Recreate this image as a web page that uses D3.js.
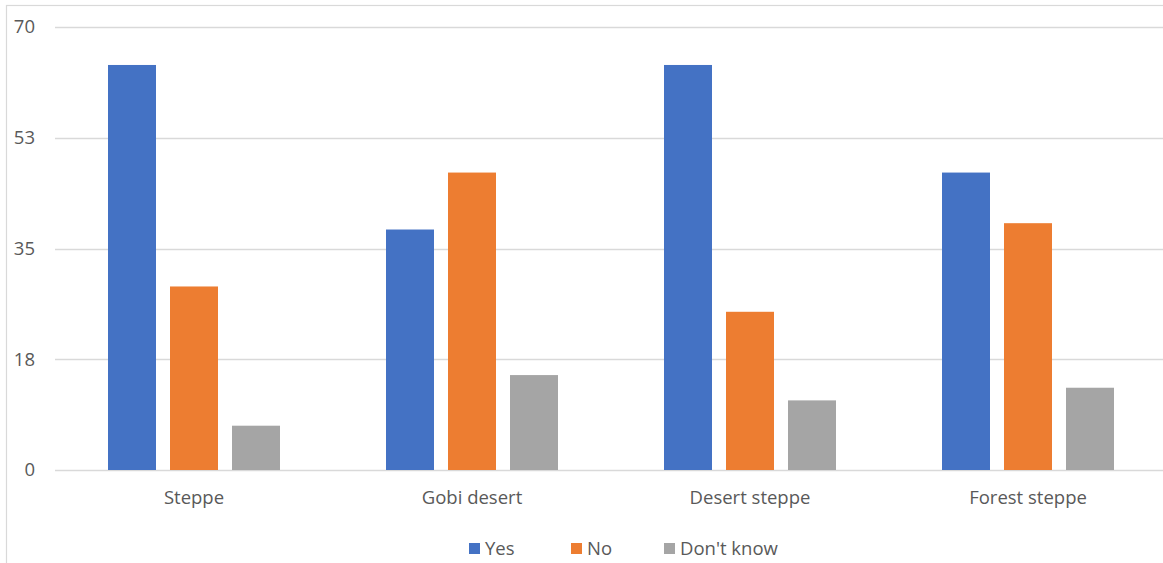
<!DOCTYPE html>
<html>
<head>
<meta charset="utf-8">
<script src="https://cdn.jsdelivr.net/npm/d3@7"></script>
<style>
  html, body { margin: 0; padding: 0; background: #fff; }
  svg { display: block; }
  text { font-family: "Open Sans", "Noto Sans", sans-serif; fill: #595959; }
</style>
</head>
<body>
<svg id="chart" width="1163" height="563"></svg>
<script>
// Survey answers by landscape zone
const categories = ["Steppe", "Gobi desert", "Desert steppe", "Forest steppe"];
const seriesNames = ["Yes", "No", "Don't know"];
const yesValues = [64, 38, 64, 47];
const noValues = [29, 47, 25, 39];
const dontKnowValues = [7, 15, 11, 13];
const yTicks = [0, 17.5, 35, 52.5, 70];
const yTickLabels = ["0", "18", "35", "53", "70"];
const colors = ["#4472C4", "#ED7D31", "#A5A5A5"];

const series = [yesValues, noValues, dontKnowValues];
const rows = categories.map((c, i) => ({
  category: c,
  values: seriesNames.map((s, j) => ({ key: s, value: series[j][i] }))
}));

const FONT = 18.5;
const svg = d3.select("#chart");

// outer chart frame
svg.append("rect")
  .attr("x", 6.5).attr("y", 5.5)
  .attr("width", 1200).attr("height", 600)
  .attr("fill", "none").attr("stroke", "#D9D9D9").attr("stroke-width", 1.2);

const plot = { left: 55, right: 1167, top: 27, bottom: 470 };

const x0 = d3.scaleBand().domain(categories).range([plot.left, plot.right]).paddingInner(0).paddingOuter(0);
const x1 = d3.scaleBand().domain(seriesNames).range([53, x0.bandwidth() - 53]).paddingInner(0.226).paddingOuter(0);
const y = d3.scaleLinear().domain([0, 70]).range([plot.bottom, plot.top]);

// gridlines
svg.append("g")
  .selectAll("line")
  .data(yTicks)
  .join("line")
  .attr("x1", plot.left).attr("x2", plot.right)
  .attr("y1", d => Math.round(y(d)) + 0.5).attr("y2", d => Math.round(y(d)) + 0.5)
  .attr("stroke", "#D9D9D9").attr("stroke-width", 1.5);

// y axis labels
const yAxis = d3.axisLeft(y).tickValues(yTicks).tickFormat((d, i) => yTickLabels[i]).tickSize(0).tickPadding(0);
const yg = svg.append("g").attr("transform", "translate(35,0)").call(yAxis);
yg.select(".domain").remove();
yg.selectAll("text").attr("font-size", FONT).attr("fill", "#595959")
  .style("font-family", '"Open Sans", "Noto Sans", sans-serif');

// bars
const groups = svg.append("g").selectAll("g")
  .data(rows)
  .join("g")
  .attr("transform", d => `translate(${x0(d.category)},0)`);

groups.selectAll("rect")
  .data(d => d.values)
  .join("rect")
  .attr("x", d => x1(d.key))
  .attr("width", x1.bandwidth())
  .attr("y", d => y(d.value))
  .attr("height", d => y(0) - y(d.value))
  .attr("fill", (d, i) => colors[i]);

// x axis labels
const xAxis = d3.axisBottom(x0).tickSize(0).tickPadding(0);
const xg = svg.append("g").attr("transform", `translate(0,${plot.bottom + 21})`).call(xAxis);
xg.select(".domain").remove();
xg.selectAll("text").attr("font-size", FONT).attr("fill", "#595959")
  .style("font-family", '"Open Sans", "Noto Sans", sans-serif');

// legend
const legendX = [469, 571, 664];
const legend = svg.append("g").selectAll("g")
  .data(seriesNames)
  .join("g")
  .attr("transform", (d, i) => `translate(${legendX[i]},543)`);
legend.append("rect").attr("width", 11).attr("height", 11).attr("fill", (d, i) => colors[i]);
legend.append("text").attr("x", 16).attr("y", 12).attr("font-size", FONT).text(d => d);
</script>
</body>
</html>
